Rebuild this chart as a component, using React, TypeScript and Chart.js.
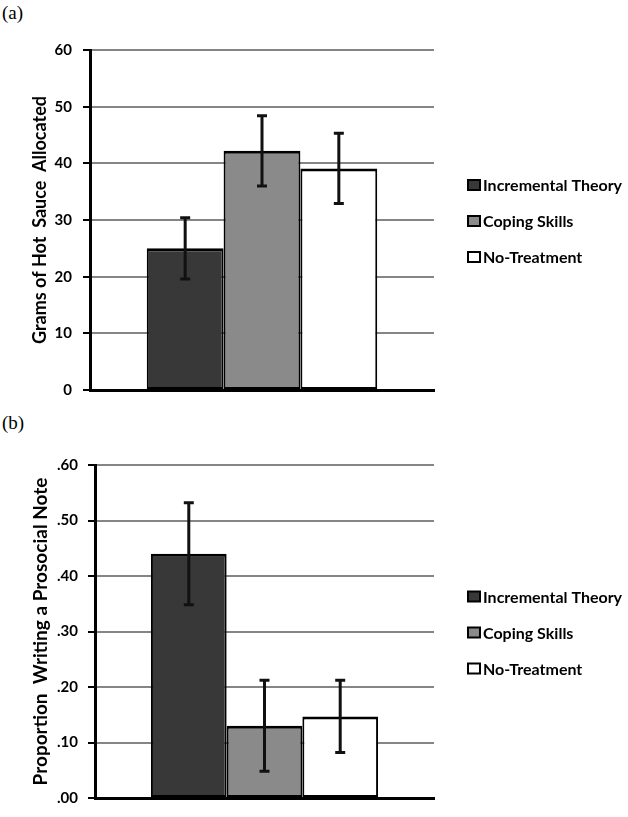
import { useEffect, useRef } from "react";
import { Chart, registerables } from "chart.js";

Chart.register(...registerables);

const groups = ["Incremental Theory", "Coping Skills", "No-Treatment"];
const fillColors = ["#383838", "#8a8a8a", "#ffffff"];

const hotSauceMeans = [25.0, 42.2, 39.1];
const hotSauceErrors = [5.4, 6.2, 6.2];
const hotSauceTicks = ["0", "10", "20", "30", "40", "50", "60"];

const prosocialMeans = [0.44, 0.13, 0.147];
const prosocialErrors = [0.092, 0.082, 0.065];
const prosocialTicks = [".00", ".10", ".20", ".30", ".40", ".50", ".60"];

const FONT = "Lato, 'Open Sans', sans-serif";

type PanelProps = {
  means: number[];
  errors: number[];
  tickLabels: string[];
  max: number;
  step: number;
  title: string;
  titleSize: number;
  top: number;
  height: number;
  axisLeft: number;
  padTop: number;
  padBottom: number;
  labelPad: number;
};

function Panel(p: PanelProps) {
  const ref = useRef<HTMLCanvasElement | null>(null);
  useEffect(() => {
    let chart: Chart | null = null;
    let cancelled = false;
    const build = () => {
      if (cancelled || !ref.current) return;
      const errorPlugin = {
        id: "errorBars",
        afterDatasetsDraw(c: any) {
          const ys = c.scales.y;
          const ctx = c.ctx;
          ctx.save();
          ctx.strokeStyle = "#111";
          ctx.lineWidth = 3;
          c.data.datasets.forEach((ds: any, i: number) => {
            const bar = c.getDatasetMeta(i).data[0];
            const m = ds.data[0];
            const e = p.errors[i];
            const yt = ys.getPixelForValue(m + e);
            const yb = ys.getPixelForValue(m - e);
            const x = bar.x;
            ctx.beginPath();
            ctx.moveTo(x, yt);
            ctx.lineTo(x, yb);
            ctx.moveTo(x - 5, yt);
            ctx.lineTo(x + 5, yt);
            ctx.moveTo(x - 5, yb);
            ctx.lineTo(x + 5, yb);
            ctx.stroke();
          });
          ctx.restore();
        },
      };
      const legendPlugin = {
        id: "sideLegend",
        afterDraw(c: any) {
          const { ctx, chartArea } = c;
          const x = chartArea.right + 34;
          const cy = (chartArea.top + chartArea.bottom) / 2 + 1;
          const gap = 36;
          ctx.save();
          ctx.font = `bold 16px ${FONT}`;
          ctx.textBaseline = "middle";
          c.data.datasets.forEach((ds: any, i: number) => {
            const y = cy + (i - 1) * gap;
            ctx.fillStyle = ds.backgroundColor;
            ctx.fillRect(x, y - 5, 12, 10);
            ctx.strokeStyle = "#000";
            ctx.lineWidth = 2;
            ctx.strokeRect(x, y - 5, 12, 10);
            ctx.fillStyle = "#000";
            ctx.fillText(ds.label, x + 15, y + 1);
          });
          ctx.restore();
        },
      };
      chart = new Chart(ref.current, {
        type: "bar",
        data: {
          labels: [""],
          datasets: groups.map((g, i) => ({
            label: g,
            data: [p.means[i]],
            backgroundColor: fillColors[i],
            borderColor: "#000",
            borderWidth: { top: 3, left: 2, right: 2, bottom: 2 },
            borderSkipped: false,
            categoryPercentage: 0.67,
            barPercentage: 1.0,
          })),
        },
        options: {
          animation: false,
          responsive: false,
          maintainAspectRatio: false,
          layout: {
            padding: { top: p.padTop, bottom: p.padBottom, left: 0, right: 628 - 434 },
          },
          plugins: { legend: { display: false }, tooltip: { enabled: false } },
          scales: {
            x: {
              display: true,
              grid: { display: false, drawTicks: false },
              ticks: { display: false },
              border: { display: true, color: "#000", width: 3 },
              afterFit(s: any) {
                s.height = 0;
              },
            },
            y: {
              min: 0,
              max: p.max,
              ticks: {
                stepSize: p.step,
                color: "#000",
                padding: p.labelPad,
                font: { family: FONT, size: 15, weight: "bold" },
                callback: (v: any) => p.tickLabels[Math.round(Number(v) / p.step)],
              },
              grid: {
                color: "#858585",
                lineWidth: 2,
                tickColor: "#000",
                tickLength: 7,
                tickWidth: 2,
              },
              border: { color: "#000", width: 3 },
              title: {
                display: true,
                text: p.title,
                color: "#000",
                font: { family: FONT, size: p.titleSize, weight: "bold" },
                padding: { top: Math.round(40 - p.titleSize * 0.6), bottom: 0 },
              },
              afterFit(s: any) {
                s.width = p.axisLeft;
              },
            },
          },
        },
        plugins: [errorPlugin, legendPlugin],
      } as any);
    };
    const fonts: any = (document as any).fonts;
    if (fonts && fonts.load) {
      Promise.all([fonts.load(`bold 15px Lato`), fonts.load(`bold 18px Lato`)]).then(build, build);
    } else build();
    return () => {
      cancelled = true;
      if (chart) chart.destroy();
    };
  }, []);
  return (
    <canvas
      ref={ref}
      width={628}
      height={p.height}
      style={{ position: "absolute", left: 0, top: p.top, width: 628, height: p.height }}
    />
  );
}

export default function App() {
  useEffect(() => {
    document.body.style.margin = "0";
  }, []);
  const labelStyle: any = {
    position: "absolute",
    left: 2,
    fontFamily: "'Liberation Serif', 'DejaVu Serif', serif",
    fontSize: 19,
    lineHeight: "22px",
    color: "#000",
  };
  return (
    <div style={{ position: "relative", width: 628, height: 817, background: "#fff", overflow: "hidden" }}>
      <div style={{ ...labelStyle, top: 2 }}>(a)</div>
      <Panel
        means={hotSauceMeans}
        errors={hotSauceErrors}
        tickLabels={hotSauceTicks}
        max={60}
        step={10}
        title="Grams of Hot  Sauce  Allocated"
        titleSize={18}
        top={30}
        height={380}
        axisLeft={90}
        padTop={18}
        padBottom={19}
        labelPad={11}
      />
      <div style={{ ...labelStyle, top: 412 }}>(b)</div>
      <Panel
        means={prosocialMeans}
        errors={prosocialErrors}
        tickLabels={prosocialTicks}
        max={0.6}
        step={0.1}
        title="Proportion  Writing a Prosocial Note"
        titleSize={19}
        top={430}
        height={387}
        axisLeft={95}
        padTop={35}
        padBottom={8}
        labelPad={10}
      />
    </div>
  );
}
